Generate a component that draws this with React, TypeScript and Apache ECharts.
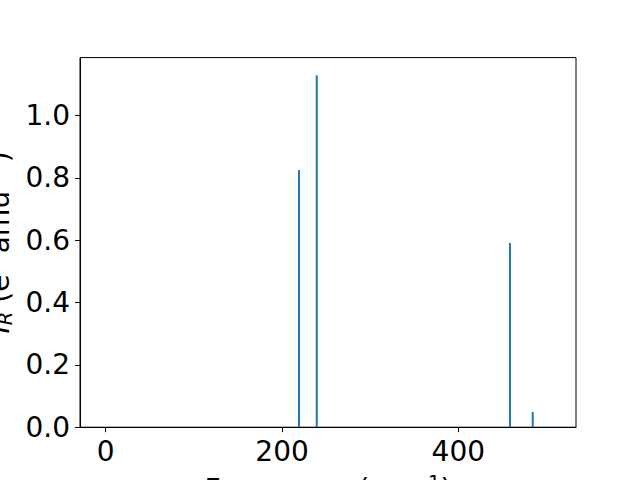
import React, { useEffect, useRef } from "react";
import * as echarts from "echarts";

const frequencies = [219.3, 239.4, 458.6, 484.4];
const intensities = [0.826, 1.13, 0.591, 0.049];
const xTicks = [0, 200, 400];
const yTicks = [0, 0.2, 0.4, 0.6, 0.8, 1.0];
const xLabel = "Frequency (cm{sup|−1})";
const yLabel = "{i|I}{sub|R} (e{sup|2} amu{sup|−1})";

const FONT = "DejaVu Sans";

export default function App() {
  const ref = useRef<HTMLDivElement>(null);
  useEffect(() => {
    if (!ref.current) return;
    const chart = echarts.init(ref.current, null, { renderer: "svg" });
    const data = frequencies.map((f, i) => [f, intensities[i]]);
    const rich = {
      i: { fontStyle: "italic", fontSize: 28, fontFamily: FONT, fill: "#000" },
      sub: { fontStyle: "italic", fontSize: 19.5, fontFamily: FONT, verticalAlign: "bottom", fill: "#000" },
      sup: { fontSize: 19.5, fontFamily: FONT, verticalAlign: "top", fill: "#000" },
    };
    chart.setOption({
      animation: false,
      backgroundColor: "#fff",
      grid: {
        left: 80,
        right: 64,
        top: 57.6,
        bottom: 52.8,
        show: true,
        borderColor: "#000",
        borderWidth: 1,
        backgroundColor: "transparent",
      },
      xAxis: {
        type: "value",
        min: -29.2,
        max: 533.5,
        splitLine: { show: false },
        axisLine: { show: true, onZero: false, lineStyle: { color: "#000", width: 1 } },
        axisTick: { show: true, length: 5, customValues: xTicks, lineStyle: { color: "#000", width: 1 } },
        axisLabel: {
          customValues: xTicks,
          margin: 10,
          fontSize: 28,
          fontFamily: FONT,
          color: "#000",
          formatter: (v: number) => String(v),
        },
      },
      yAxis: {
        type: "value",
        min: 0,
        max: 1.1865,
        splitLine: { show: false },
        axisLine: { show: true, onZero: false, lineStyle: { color: "#000", width: 1 } },
        axisTick: { show: true, length: 5, customValues: yTicks, lineStyle: { color: "#000", width: 1 } },
        axisLabel: {
          customValues: yTicks,
          margin: 10,
          fontSize: 28,
          fontFamily: FONT,
          color: "#000",
          formatter: (v: number) => v.toFixed(1),
        },
      },
      series: [
        {
          type: "custom",
          data,
          clip: true,
          renderItem: (params: any, api: any) => {
            const x = api.value(0);
            const y = api.value(1);
            const p0 = api.coord([x, 0]);
            const p1 = api.coord([x, y]);
            return {
              type: "rect",
              shape: { x: p0[0] - 1, y: p1[1], width: 2, height: p0[1] - p1[1] },
              style: { fill: "#1f77b4" },
            };
          },
        },
      ],
      graphic: [
        {
          type: "text",
          x: 328,
          y: 489,
          style: {
            text: xLabel,
            fontSize: 28,
            fontFamily: FONT,
            fill: "#000",
            align: "center",
            verticalAlign: "middle",
            lineHeight: 33,
            rich,
          },
        },
        {
          type: "text",
          x: -1,
          y: 242.4,
          rotation: Math.PI / 2,
          style: {
            text: yLabel,
            fontSize: 28,
            fontFamily: FONT,
            fill: "#000",
            align: "center",
            verticalAlign: "middle",
            lineHeight: 33,
            rich,
          },
        },
      ],
    });
    return () => chart.dispose();
  }, []);
  return <div ref={ref} style={{ width: 640, height: 480, position: "absolute", left: 0, top: 0 }} />;
}
